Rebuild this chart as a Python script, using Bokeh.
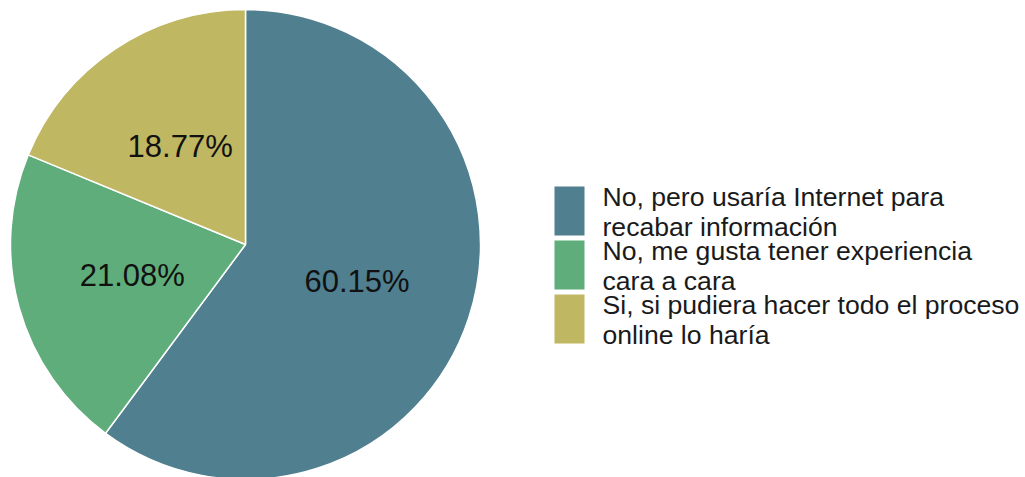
import math
from bokeh.plotting import figure
from bokeh.models import ColumnDataSource, Range1d
from bokeh.core.properties import value
from bokeh.embed import file_html
from bokeh.resources import INLINE

categories = [
    "No, pero usaría Internet para\nrecabar información",
    "No, me gusta tener experiencia\ncara a cara",
    "Si, si pudiera hacer todo el proceso\nonline lo haría",
]
percentages = [60.15, 21.08, 18.77]
colors = ["#507f8f", "#5fad7a", "#bfb762"]

W, H = 1025, 477
p = figure(width=W, height=H, output_backend="svg", toolbar_location=None,
           x_range=Range1d(0, W), y_range=Range1d(0, H), min_border=0)
p.axis.visible = False
p.grid.visible = False
p.outline_line_color = None
p.background_fill_color = "white"

cx, cy, r = 245, H - 244, 235
total = sum(percentages)
starts, ends, lx, ly, labels = [], [], [], [], []
cum = 0.0
for v in percentages:
    a0 = math.pi / 2 - cum / total * 2 * math.pi
    cum += v
    a1 = math.pi / 2 - cum / total * 2 * math.pi
    starts.append(a0)
    ends.append(a1)
    mid = (a0 + a1) / 2
    lx.append(cx + 0.5 * r * math.cos(mid))
    ly.append(cy + 0.5 * r * math.sin(mid))
    labels.append(f"{v:.2f}%")

src = ColumnDataSource(dict(start=starts, end=ends, color=colors))
p.wedge(x=cx, y=cy, radius=r, start_angle="start", end_angle="end",
        direction="clock", fill_color="color", line_color="white",
        line_width=1.5, source=src)

p.text(x=lx, y=ly, text=labels, text_align="center", text_baseline="middle",
       text_font=value("Liberation Sans"), text_font_size="31px",
       text_color="#111111")

# legend
sw_x = 569
sw_y = [H - 210.5 - i * 54 for i in range(len(categories))]
p.rect(x=[sw_x] * len(categories), y=sw_y, width=30, height=49,
       fill_color=colors, line_color=None)
p.text(x=[602] * len(categories), y=[y - 1 for y in sw_y], text=categories,
       text_align="left", text_baseline="middle",
       text_font=value("Liberation Sans"), text_font_size="26.6px",
       text_line_height=1.0, text_color="#1a1a1a")

open("out.html", "w").write(file_html(p, INLINE))
